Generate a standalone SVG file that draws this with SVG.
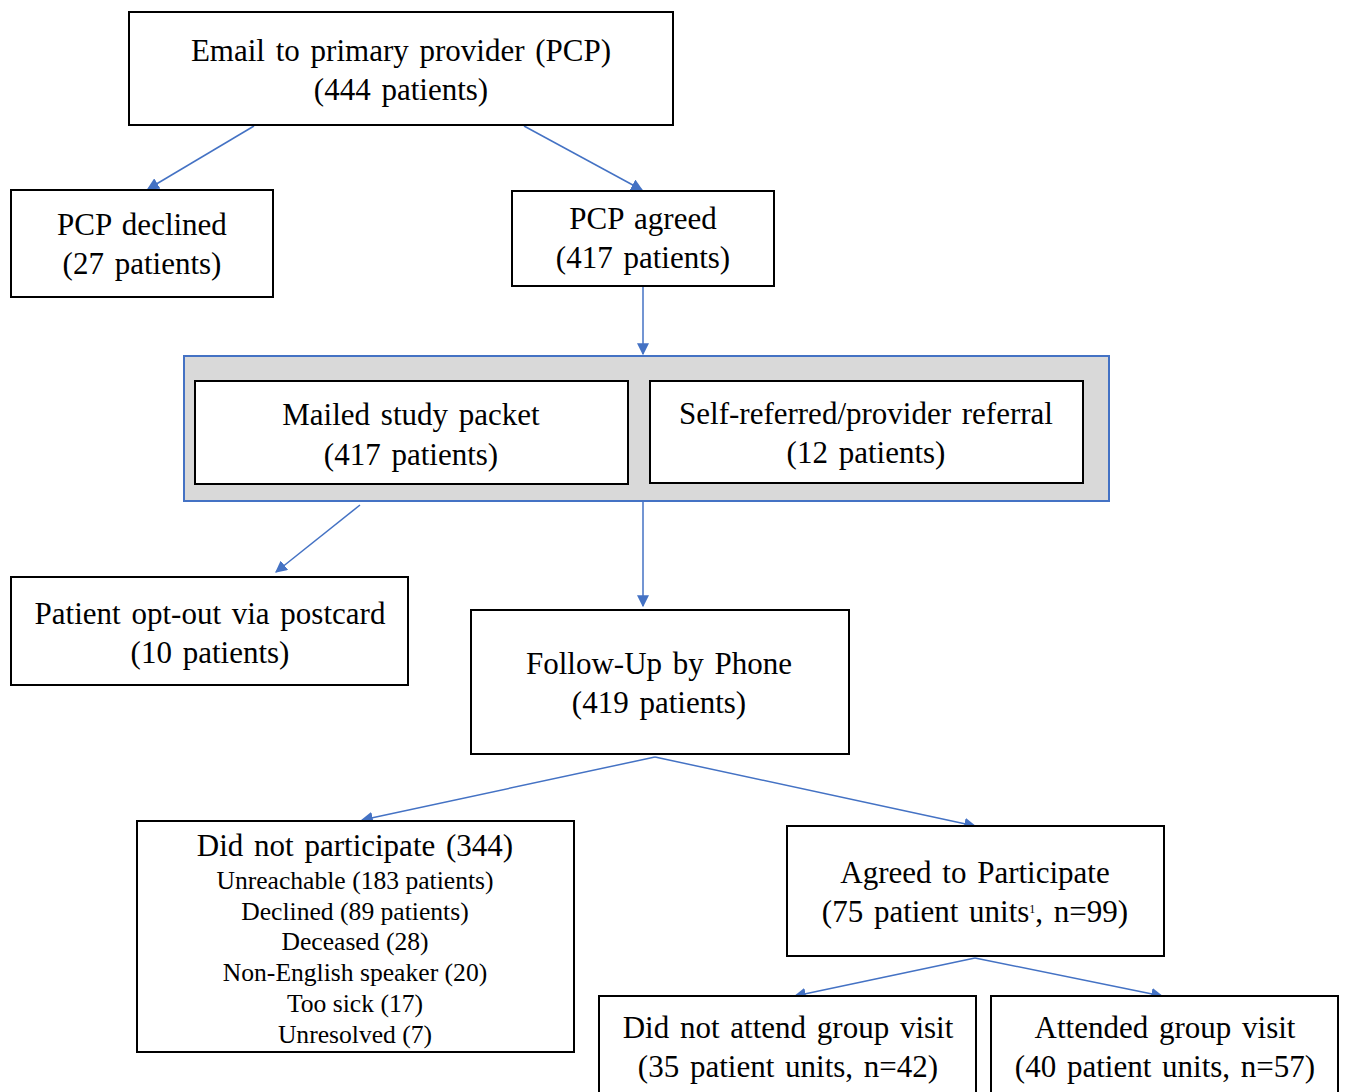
<svg xmlns="http://www.w3.org/2000/svg" width="1346" height="1092" viewBox="0 0 1346 1092">
<style>
.box{fill:#fff;stroke:#000;stroke-width:2}
.t{font-family:"Liberation Serif","Times New Roman",serif;font-size:31px;fill:#000;text-anchor:middle;word-spacing:3px}
.s{font-family:"Liberation Serif","Times New Roman",serif;font-size:25.6px;fill:#000;text-anchor:middle}
.c{stroke:#4472c4;stroke-width:1.5;fill:none;marker-end:url(#ah)}
</style>
<defs>
<marker id="ah" viewBox="0 0 10 10" refX="9" refY="5" markerWidth="12" markerHeight="12" markerUnits="userSpaceOnUse" orient="auto">
<path d="M0,0L10,5L0,10z" fill="#4472c4"/>
</marker>
</defs>
<rect width="1346" height="1092" fill="#fff"/>
<g id="connectors">
<line class="c" x1="254" y1="126" x2="148" y2="189"/>
<line class="c" x1="524" y1="126" x2="642" y2="190"/>
<line class="c" x1="643" y1="287" x2="643" y2="354"/>
<line class="c" x1="360" y1="505" x2="276" y2="572"/>
<line class="c" x1="643" y1="502" x2="643" y2="606"/>
<line class="c" x1="655" y1="757" x2="362" y2="820"/>
<line class="c" x1="655" y1="757" x2="975" y2="826"/>
<line class="c" x1="975" y1="958" x2="795" y2="996"/>
<line class="c" x1="975" y1="958" x2="1162" y2="996"/>
</g>
<g id="email">
<rect class="box" x="129" y="12" width="544" height="113"/>
<text class="t" x="401" y="61">Email to primary provider (PCP)</text>
<text class="t" x="401" y="100">(444 patients)</text>
</g>
<g id="declined">
<rect class="box" x="11" y="190" width="262" height="107"/>
<text class="t" x="142" y="235">PCP declined</text>
<text class="t" x="142" y="274">(27 patients)</text>
</g>
<g id="agreed">
<rect class="box" x="512" y="191" width="262" height="95"/>
<text class="t" x="643" y="229">PCP agreed</text>
<text class="t" x="643" y="268">(417 patients)</text>
</g>
<g id="container">
<rect x="184" y="356" width="925" height="145" fill="#d9d9d9" stroke="#4472c4" stroke-width="2"/>
</g>
<g id="mailed">
<rect class="box" x="195" y="381" width="433" height="103"/>
<text class="t" x="411" y="425">Mailed study packet</text>
<text class="t" x="411" y="465">(417 patients)</text>
</g>
<g id="selfref">
<rect class="box" x="650" y="381" width="433" height="102"/>
<text class="t" x="866" y="424">Self-referred/provider referral</text>
<text class="t" x="866" y="463">(12 patients)</text>
</g>
<g id="optout">
<rect class="box" x="11" y="577" width="397" height="108"/>
<text class="t" x="210" y="624">Patient opt-out via postcard</text>
<text class="t" x="210" y="663">(10 patients)</text>
</g>
<g id="followup">
<rect class="box" x="471" y="610" width="378" height="144"/>
<text class="t" x="659" y="674">Follow-Up by Phone</text>
<text class="t" x="659" y="713">(419 patients)</text>
</g>
<g id="notpart">
<rect class="box" x="137" y="821" width="437" height="231"/>
<text class="t" x="355" y="856">Did not participate  (344)</text>
<text class="s" x="355" y="889">Unreachable (183 patients)</text>
<text class="s" x="355" y="920">Declined (89 patients)</text>
<text class="s" x="355" y="950">Deceased (28)</text>
<text class="s" x="355" y="981">Non-English speaker (20)</text>
<text class="s" x="355" y="1012">Too sick (17)</text>
<text class="s" x="355" y="1043">Unresolved (7)</text>
</g>
<g id="agreedpart">
<rect class="box" x="787" y="826" width="377" height="130"/>
<text class="t" x="975" y="883">Agreed to Participate</text>
<text class="t" x="975" y="922">(75 patient units<tspan font-size="12" dy="-9">1</tspan><tspan dy="9">, n=99)</tspan></text>
</g>
<g id="notattend">
<rect class="box" x="599" y="996" width="377" height="100"/>
<text class="t" x="788" y="1038">Did not attend group visit</text>
<text class="t" x="788" y="1077">(35 patient units, n=42)</text>
</g>
<g id="attended">
<rect class="box" x="991" y="996" width="347" height="100"/>
<text class="t" x="1165" y="1038">Attended group visit</text>
<text class="t" x="1165" y="1077">(40 patient units, n=57)</text>
</g>
</svg>
